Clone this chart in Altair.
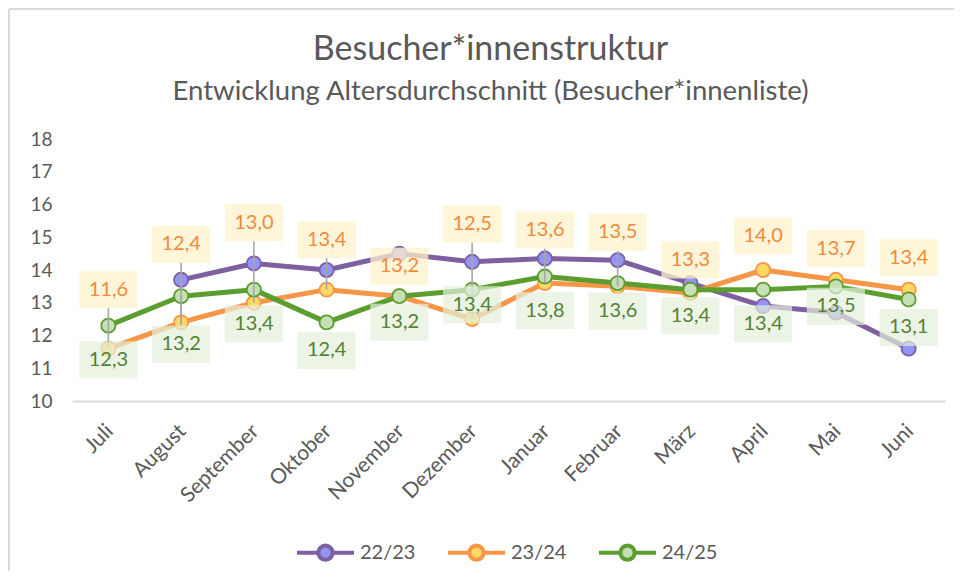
import altair as alt
import pandas as pd

# ---------------- data ----------------
months = ["Juli", "August", "September", "Oktober", "November", "Dezember",
          "Januar", "Februar", "März", "April", "Mai", "Juni"]
series_names = ["22/23", "23/24", "24/25"]
values_2223 = [None, 13.7, 14.2, 14.0, 14.5, 14.25, 14.35, 14.3, 13.6, 12.9, 12.7, 11.6]
values_2324 = [11.6, 12.4, 13.0, 13.4, 13.2, 12.5, 13.6, 13.5, 13.3, 14.0, 13.7, 13.4]
values_2425 = [12.3, 13.2, 13.4, 12.4, 13.2, 13.4, 13.8, 13.6, 13.4, 13.4, 13.5, 13.1]
y_ticks = [10, 11, 12, 13, 14, 15, 16, 17, 18]

# ---------------- layout / style ----------------
W, H = 873, 262
Y_MIN, Y_MAX = 10, 18
PPU = H / (Y_MAX - Y_MIN)            # pixels per year on the y scale
# data-label placement relative to the point (px, negative = above)
label_dy_2324 = [-59, -78, -80, -50, -30, -95, -53, -54, -33, -34, -31, -32]
label_dy_2425 = [34, 48, 34, 28, 26, 15, 34, 28, 26, 34, 20, 28]
BOX_W, BOX_H = 58, 37
LEADER_MIN = 45

line_colors = ["#7e60a0", "#f79646", "#5b9e2f"]
fill_colors = ["#9494f7", "#ffd966", "#c5e0b4"]
FONT = "Lato"
GREY = "#595959"

rows = []
for name, vals in zip(series_names, [values_2223, values_2324, values_2425]):
    for m, v in zip(months, vals):
        if v is not None:
            rows.append({"month": m, "series": name, "value": v})
df = pd.DataFrame(rows)


def label_frame(vals, dys, above):
    recs = []
    half = BOX_H / 2
    for m, v, d in zip(months, vals, dys):
        ly = v - d / PPU
        if above:
            edge = v - (d + half) / PPU
        else:
            edge = v - (d - half) / PPU
        recs.append({"month": m, "value": v, "label_y": ly, "edge": edge,
                     "lead": abs(d) > LEADER_MIN,
                     "label": f"{v:.1f}".replace(".", ",")})
    return pd.DataFrame(recs)


lab_or = label_frame(values_2324, label_dy_2324, True)
lab_gr = label_frame(values_2425, label_dy_2425, False)

x_axis = alt.Axis(title=None, labelAngle=-45, labelFontSize=21, labelFont=FONT,
                  labelColor=GREY, ticks=False, tickSize=0, labelPadding=19,
                  labelOffset=-6, labelOverlap=False,
                  domainColor="#d9d9d9", domainWidth=2, grid=False)
x_scale = alt.Scale(domain=months)
y_axis = alt.Axis(title=None, values=y_ticks, grid=False, tickCount=9,
                  domain=False, ticks=False, tickSize=0, labelPadding=20,
                  labelOverlap=False, labelFlush=False,
                  labelFontSize=19, labelFont=FONT, labelColor=GREY)
y_scale = alt.Scale(domain=[Y_MIN, Y_MAX], nice=False, zero=False)


def X():
    return alt.X("month:N", sort=months, scale=x_scale, axis=x_axis)


def Y(field):
    return alt.Y(field, type="quantitative", scale=y_scale, axis=y_axis)


legend_path = ("M-1,0H-0.25M0.25,0H1M0.25,0A0.25,0.25,0,1,1,-0.25,0"
               "A0.25,0.25,0,1,1,0.25,0Z")
leg = alt.Legend(title=None, orient="none", legendX=223, legendY=383,
                 direction="horizontal", symbolType=legend_path, symbolSize=3249,
                 symbolStrokeWidth=4, labelFontSize=20, labelFont=FONT,
                 labelColor=GREY, columnPadding=24, labelOffset=4, padding=0)
stroke_enc = alt.Stroke("series:N", scale=alt.Scale(domain=series_names, range=line_colors),
                        legend=leg)
fill_enc = alt.Fill("series:N", scale=alt.Scale(domain=series_names, range=fill_colors),
                    legend=leg)

base = alt.Chart(df)
lines = base.mark_line(strokeWidth=5, strokeJoin="round", strokeCap="round").encode(
    x=X(), y=Y("value"), stroke=stroke_enc)
points = base.mark_point(filled=True, size=200, strokeWidth=1.8, opacity=1).encode(
    x=X(), y=Y("value"), stroke=stroke_enc, fill=fill_enc)

box_path = "M-1,-0.638H1V0.638H-1Z"


def label_layers(lab, box_color, box_opacity, text_color):
    b = alt.Chart(lab)
    leaders = b.transform_filter("datum.lead").mark_rule(
        color="#a6a6a6", strokeWidth=1.6).encode(x=X(), y=Y("value"), y2="edge:Q")
    boxes = b.mark_point(shape=box_path, size=BOX_W ** 2, filled=True, strokeWidth=0,
                         color=box_color, opacity=box_opacity).encode(
        x=X(), y=Y("label_y"))
    texts = b.mark_text(fontSize=20, font=FONT, color=text_color, baseline="middle",
                        align="center").encode(x=X(), y=Y("label_y"), text="label:N")
    return leaders, boxes, texts


lo, bo, to = label_layers(lab_or, "#fff2cc", 0.75, "#f28a3a")
lg, bg, tg = label_layers(lab_gr, "#e2efda", 0.7, "#548235")

frame_df = pd.DataFrame({"k": [0]})
frame_top = alt.Chart(frame_df).mark_rule(color="#d9d9d9", strokeWidth=2).encode(
    x=alt.value(-63), x2=alt.value(W + 9), y=alt.value(-130))
frame_left = alt.Chart(frame_df).mark_rule(color="#d9d9d9", strokeWidth=2).encode(
    x=alt.value(-63), y=alt.value(-130), y2=alt.value(H + 170))

chart = alt.layer(
    lines, frame_top, frame_left, points, lo, lg, bo, bg, to, tg
).properties(
    width=W, height=H,
    background="white",
    autosize=alt.AutoSizeParams(type="none"),
    padding={"left": 64, "top": 131, "right": 9, "bottom": 170},
    title=alt.TitleParams(
        text="Besucher*innenstruktur",
        subtitle="Entwicklung Altersdurchschnitt (Besucher*innenliste)",
        font=FONT, subtitleFont=FONT, fontSize=34, subtitleFontSize=27.5,
        fontWeight="normal", color=GREY, subtitleColor=GREY,
        anchor="middle", dx=-18, offset=-97, subtitlePadding=11),
).configure_view(stroke=None)

chart.save("out.html", embed_options={"renderer": "svg", "actions": False})
